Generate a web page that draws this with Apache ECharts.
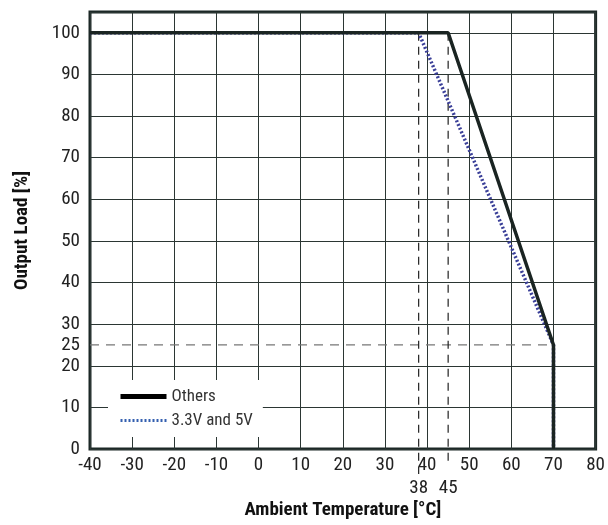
<!DOCTYPE html>
<html>
<head>
<meta charset="utf-8">
<script src="https://cdn.jsdelivr.net/npm/echarts@6/dist/echarts.min.js"></script>
<style>html,body{margin:0;padding:0;background:#fff;}#c{width:608px;height:525px;}</style>
</head>
<body>
<div id="c"></div>
<script>
const xTicks = [-40,-30,-20,-10,0,10,20,30,40,50,60,70,80];
const xExtraTicks = [38,45];
const yTicks = [0,10,20,25,30,40,50,60,70,80,90,100];
const othersData = [[-40,100],[45,100],[70,25],[70,0]];
const lowVData = [[-40,100],[38,100],[70,25],[70,0]];
const ref38 = [[38,100],[38,-6]];
const ref45 = [[45,100],[45,-4]];
const ref25 = [[-40,25],[70,25]];

const FONT = "'Liberation Sans Narrow','Roboto Condensed','Liberation Sans',sans-serif";
const chart = echarts.init(document.getElementById('c'));
chart.setOption({
  animation: false,
  textStyle: {fontFamily: FONT},
  grid: {left: 90, right: 11, top: 12, bottom: 73, show: true, borderColor: '#1c2826', borderWidth: 3, containLabel: false},
  legend: {
    left: 108, top: 380, width: 162, height: 55, orient: 'vertical',
    backgroundColor: '#fff', padding: [8, 10, 8, 10], itemGap: 7,
    itemWidth: 46, itemHeight: 14,
    itemStyle: {opacity: 0},
    textStyle: {fontFamily: FONT, fontSize: 17, color: '#333'},
    data: [
      {name: 'Others', lineStyle: {width: 5, color: '#000'}},
      {name: '3.3V and 5V', lineStyle: {width: 3, color: '#3560b0'}}
    ]
  },
  xAxis: [{
    type: 'value', min: -40, max: 80, interval: 10,
    name: 'Ambient Temperature [°C]', nameLocation: 'middle', nameGap: 52,
    nameTextStyle: {fontFamily: FONT, fontSize: 19, fontWeight: 'bold', color: '#111'},
    axisLine: {show: false}, axisTick: {show: false},
    axisLabel: {customValues: xTicks, fontFamily: FONT, fontSize: 19, color: '#222', margin: 7},
    splitLine: {show: true, lineStyle: {color: '#2b3633', width: 1}}
  }, {
    type: 'value', min: -40, max: 80, position: 'bottom', offset: 23,
    axisLine: {show: false}, axisTick: {show: false}, splitLine: {show: false},
    axisLabel: {customValues: xExtraTicks, fontFamily: FONT, fontSize: 19, color: '#222', margin: 7}
  }],
  yAxis: {
    type: 'value', min: 0, max: 105, interval: 10,
    name: 'Output Load [%]', nameLocation: 'middle', nameGap: 58,
    nameTextStyle: {fontFamily: FONT, fontSize: 19, fontWeight: 'bold', color: '#111'},
    axisLine: {show: false}, axisTick: {show: false},
    axisLabel: {customValues: yTicks, fontFamily: FONT, fontSize: 19, color: '#222', margin: 10},
    splitLine: {show: true, lineStyle: {color: '#2b3633', width: 1}}
  },
  series: [
    {type: 'line', name: 'ref25', data: ref25, symbol: 'none', silent: true,
     lineStyle: {color: '#777', width: 1.3, type: [9, 7]}},
    {type: 'line', name: 'ref38', data: ref38, symbol: 'none', silent: true, clip: false,
     lineStyle: {color: '#222', width: 1.2, type: [8, 6]}},
    {type: 'line', name: 'ref45', data: ref45, symbol: 'none', silent: true, clip: false,
     lineStyle: {color: '#222', width: 1.2, type: [8, 6]}},
    {type: 'line', name: '3.3V and 5V', data: lowVData, symbol: 'none', color: '#3a3f98',
     lineStyle: {color: '#3a3f98', width: 3.5, type: [2, 2]}},
    {type: 'line', name: 'Others', data: othersData, symbol: 'none', color: '#111',
     lineStyle: {color: '#1a2422', width: 3.5}}
  ]
});
</script>
</body>
</html>
